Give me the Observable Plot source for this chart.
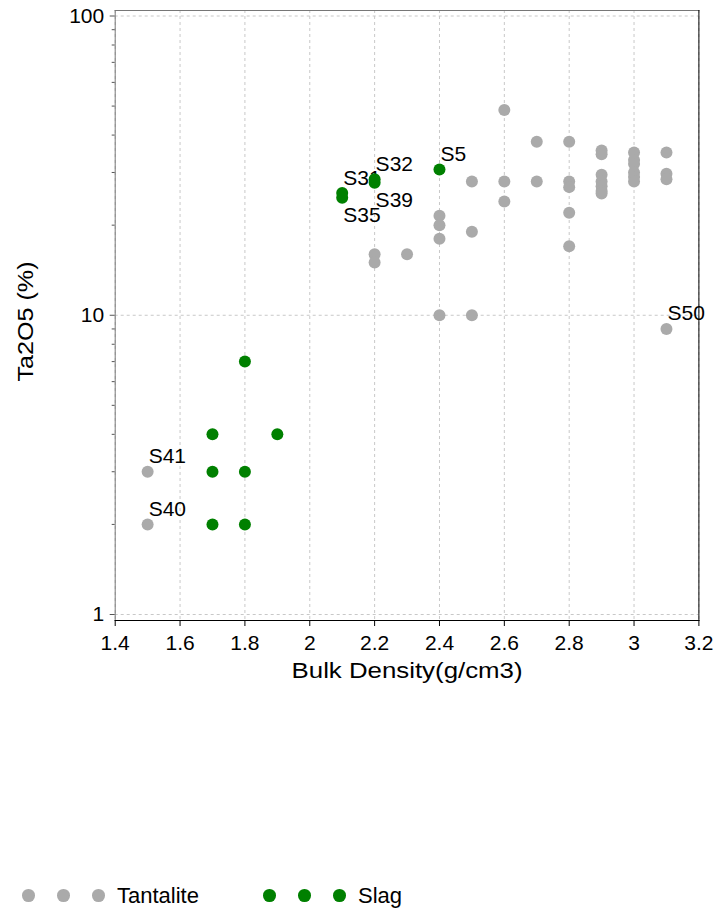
<!DOCTYPE html>
<html>
<head>
<meta charset="utf-8">
<script src="https://cdn.jsdelivr.net/npm/d3@7"></script>
<script src="https://cdn.jsdelivr.net/npm/@observablehq/plot@0.6"></script>
<style>
  html, body { margin: 0; padding: 0; background: white; }
  #wrap { position: relative; width: 717px; height: 909px; font-family: "Liberation Sans", Arial, sans-serif; }
  #chart svg { display: block; }
  .lg-dot { position: absolute; width: 12.6px; height: 12.6px; border-radius: 50%; }
  .lg-text { position: absolute; font-size: 22px; line-height: 22px; color: black; white-space: nowrap; }
</style>
</head>
<body>
<div id="wrap">
  <div id="chart"></div>
  <div id="legend"></div>
</div>
<script>
// ---- data ----
const xTitle = "Bulk Density(g/cm3)";
const yTitle = "Ta2O5 (%)";
const xTicks = [1.4, 1.6, 1.8, 2, 2.2, 2.4, 2.6, 2.8, 3, 3.2];
const yTicks = [1, 10, 100];
const yMinorTicks = [2, 3, 4, 5, 6, 7, 8, 9, 20, 30, 40, 50, 60, 70, 80, 90];

const seriesNames = ["Tantalite", "Slag"];
const seriesColors = ["#aaaaaa", "#008000"];

const tantaliteDensity = [1.5, 1.5, 2.2, 2.2, 2.3, 2.4, 2.4, 2.4, 2.4, 2.5, 2.5, 2.5, 2.6, 2.6, 2.6, 2.7, 2.7, 2.8, 2.8, 2.8, 2.8, 2.8, 2.9, 2.9, 2.9, 2.9, 2.9, 2.9, 2.9, 3, 3, 3, 3, 3, 3, 3.1, 3.1, 3.1, 3.1];
const tantaliteTa2O5  = [3, 2, 16, 15, 16, 21.5, 20, 18, 10, 28, 19, 10, 48.5, 28, 24, 38, 28, 38, 28, 26.8, 22, 17, 35.5, 34.5, 29.5, 28, 27, 26, 25.5, 35, 33, 32, 30, 29, 28, 35, 29.7, 28.5, 9];
const tantaliteLabel  = ["S41", "S40", "", "", "", "", "", "", "", "", "", "", "", "", "", "", "", "", "", "", "", "", "", "", "", "", "", "", "", "", "", "", "", "", "", "", "", "", "S50"];

const slagDensity = [1.7, 1.7, 1.7, 1.8, 1.8, 1.8, 1.9, 2.1, 2.1, 2.2, 2.2, 2.4];
const slagTa2O5   = [4, 3, 2, 7, 3, 2, 4, 25.6, 24.7, 28.5, 27.7, 30.7];
const slagLabel   = ["", "", "", "", "", "", "", "S31", "S35", "S32", "S39", "S5"];

// ---- build tables ----
const tantalite = tantaliteDensity.map((d, i) => ({density: d, ta2o5: tantaliteTa2O5[i], label: tantaliteLabel[i]}));
const slag = slagDensity.map((d, i) => ({density: d, ta2o5: slagTa2O5[i], label: slagLabel[i]}));
const allPts = tantalite.concat(slag);
const belowSet = new Set(["S35", "S39"]);
const labelsAbove = allPts.filter(d => d.label && !belowSet.has(d.label));
const labelsBelow = allPts.filter(d => d.label && belowSet.has(d.label));

const gridStyle = {stroke: "#c8c8c8", strokeOpacity: 1, strokeDasharray: "3,3", strokeWidth: 1};

const chart = Plot.plot({
  width: 717,
  height: 700,
  marginLeft: 114.7,
  marginRight: 18.6,
  marginTop: 10,
  marginBottom: 80,
  x: {domain: [xTicks[0], xTicks[xTicks.length - 1]]},
  y: {type: "log", domain: [yTicks[0], yTicks[yTicks.length - 1]], insetTop: 5.5, insetBottom: 6},
  style: {fontFamily: "'Liberation Sans', Arial, sans-serif", fontSize: "21px", color: "black", background: "white"},
  marks: [
    Plot.gridX(xTicks, gridStyle),
    Plot.gridY(yTicks, gridStyle),
    Plot.text(labelsAbove, {x: "density", y: "ta2o5", text: "label", textAnchor: "start", lineAnchor: "bottom", dx: 1, dy: -8.5, fontSize: 21, fill: "black"}),
    Plot.text(labelsBelow, {x: "density", y: "ta2o5", text: "label", textAnchor: "start", lineAnchor: "top", dx: 1, dy: 9, fontSize: 21, fill: "black"}),
    Plot.dot(tantalite, {x: "density", y: "ta2o5", r: 6, fill: seriesColors[0], stroke: "none"}),
    Plot.dot(slag, {x: "density", y: "ta2o5", r: 6, fill: seriesColors[1], stroke: "none"}),
    Plot.frame({anchor: "left", stroke: "#777"}),
    Plot.frame({anchor: "top", stroke: "#777"}),
    Plot.frame({anchor: "bottom", stroke: "black"}),
    Plot.frame({anchor: "right", stroke: "black"}),
    Plot.axisX({ticks: xTicks, tickSize: 6, tickPadding: 9, tickFormat: d => String(d), fontSize: 21, label: null, stroke: "black"}),
    Plot.axisY({ticks: yTicks, tickSize: 5, tickPadding: 6, tickFormat: d => String(d), fontSize: 21, label: null, stroke: "#555"}),
    Plot.axisY({ticks: yMinorTicks, tickSize: 3, tickFormat: () => "", label: null, stroke: "#555"}),
    Plot.text([xTitle], {frameAnchor: "bottom", textAnchor: "middle", lineAnchor: "bottom", dy: 57, fontSize: 22, fill: "black"}),
    Plot.text([yTitle], {frameAnchor: "left", textAnchor: "middle", rotate: -90, dx: -89, dy: 6, fontSize: 22, fill: "black"})
  ]
});
document.getElementById("chart").appendChild(chart);

// stretch the axis titles to the reference's wider lettering
d3.select(chart).selectAll("text")
  .filter(function () { return this.textContent === xTitle; })
  .attr("textLength", 231).attr("lengthAdjust", "spacingAndGlyphs");
d3.select(chart).selectAll("text")
  .filter(function () { return this.textContent === yTitle; })
  .attr("textLength", 120).attr("lengthAdjust", "spacingAndGlyphs");

// ---- legend (HTML, below the SVG) ----
const legend = document.getElementById("legend");
const groupLeft = [22, 263];
seriesNames.forEach((name, gi) => {
  const left = groupLeft[gi];
  for (let k = 0; k < 3; k++) {
    const dot = document.createElement("div");
    dot.className = "lg-dot";
    dot.style.left = (left + k * 35) + "px";
    dot.style.top = "889px";
    dot.style.background = seriesColors[gi];
    legend.appendChild(dot);
  }
  const t = document.createElement("div");
  t.className = "lg-text";
  t.style.left = (left + 95) + "px";
  t.style.top = "885px";
  t.textContent = name;
  legend.appendChild(t);
});
</script>
</body>
</html>
